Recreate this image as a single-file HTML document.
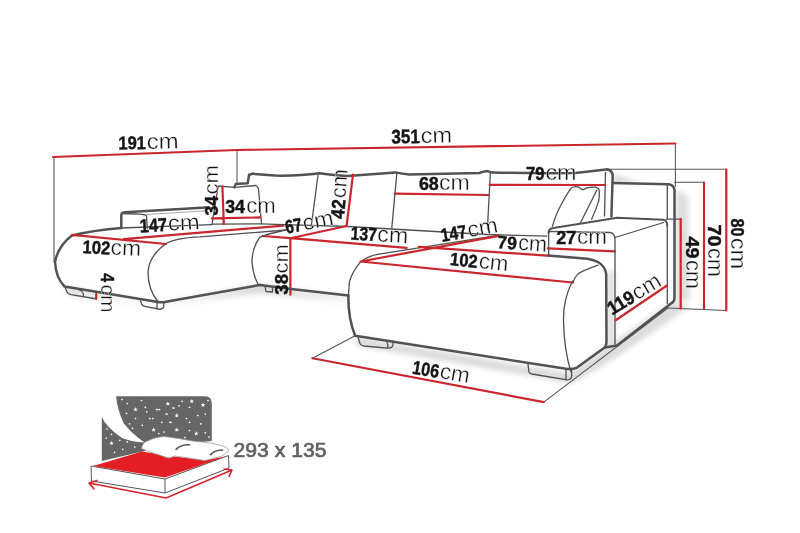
<!DOCTYPE html>
<html><head><meta charset="utf-8">
<style>
html,body{margin:0;padding:0;background:#fff;width:800px;height:533px;overflow:hidden}
svg{display:block;will-change:transform}
text{font-family:"Liberation Sans",sans-serif;fill:#151515}
.c{stroke:#fff;stroke-width:0.35}
.b{font-weight:bold;stroke:#151515;stroke-width:0.45}
.g{fill:none;stroke:#525252;stroke-width:2.5;stroke-linecap:round;stroke-linejoin:round}
.t{fill:none;stroke:#505050;stroke-width:1.3;stroke-linecap:round;stroke-linejoin:round}
.e{fill:none;stroke:#555;stroke-width:1.05;stroke-linecap:round}
.r{fill:none;stroke:#c9262d;stroke-width:2.2;stroke-linecap:round;stroke-linejoin:round}
</style></head><body>
<svg width="800" height="533" viewBox="0 0 800 533">
<defs>
<linearGradient id="sh1" x1="0" y1="0" x2="0" y2="1"><stop offset="0" stop-color="#bdbdbd"/><stop offset="1" stop-color="#fff" stop-opacity="0"/></linearGradient>
<linearGradient id="sh2" x1="0" y1="0" x2="1" y2="0"><stop offset="0" stop-color="#c4c4c4"/><stop offset="1" stop-color="#fff" stop-opacity="0"/></linearGradient>
<filter id="bl" x="-20%" y="-50%" width="140%" height="200%"><feGaussianBlur stdDeviation="2.5"/></filter>
</defs>
<g filter="url(#bl)" opacity="0.85">
<path fill="url(#sh1)" d="M64.5,287 L156,301 L260,285 L291,289 L348.4,295.6 L349,306 L291,298 L260,294 L156,311 L70,297 Z"/>
<path fill="#d6d6d6" d="M355.1,336 L529,366.5 L569,372.5 L605,347.5 L669,304 L676,302 L690,306 L620,355 L572,384 L530,376 L357,346 Z"/>
<path fill="#d9d9d9" d="M675.5,190 L688,195 L690,300 L676,302 Z"/>
<path fill="#dcdcdc" d="M607,272 L615,270 L615,344 L607,346 Z"/>
<path fill="#d0d0d0" d="M613,174 L632,180 L645,183 L613,183 Z"/>
</g>
<!-- TOP dimension -->
<path class="e" d="M54,157.5 V262 M237,150 V183.5 M675.4,143.5 V186.3"/>
<path class="r" d="M53,157 L237,150 L675.4,143.5"/>

<!-- LEFT CHAISE -->
<path class="g" d="M121.3,228 V215.5 Q121.3,212.3 125,212.2 L206,207.4"/>
<path class="t" d="M124,213.8 Q145.5,213.5 146.5,216 L147.3,228.3"/>
<path class="t" style="stroke:#aaa;stroke-width:1" d="M147,214.5 L206,210.8"/>
<path class="t" d="M121.3,228 L212,224.6"/>
<path class="g" d="M121.3,228 Q95,230 72,235.5 Q58,246 55,262 Q56,278 64.5,286.5 L158,302 Q162,302.8 166,301.8 L260,285"/>
<path class="t" d="M166,243.5 Q175,238 200,236.8 L286,230"/>
<path class="t" d="M166,243.5 Q149,256 148,272 Q148,290 158,301.5"/>
<path class="t" d="M65.5,288.25 L67,292 Q68,294 71,294.6 L95.5,298.75 M79,289.75 Q84,292 83.5,295.75"/>
<path class="t" d="M140.5,301 L142,304.75 Q143,306 146,306.6 L160,309.25 Q163.75,309 163.75,306 L163.75,302.5 M157,302.5 V309"/>
<path class="r" d="M96.2,294 V299"/>
<path class="r" d="M72,234.8 L166,244 M123.75,239.1 L283.4,225.6"/>

<!-- PILLOW left -->
<path class="g" d="M234.4,187.4 L235.8,183.9 L247.7,183.2 L249.1,174.8 L252.7,173.8"/>
<path class="t" d="M218.2,186 L234.4,187.4 L256,185.5 Q258,186.5 258.5,189 L261.5,223.8 L212,224.2 L218.2,186"/>
<path class="t" d="M261.5,223.8 L284.2,224.7 L348,226.5 L487,234.5 L547,236.1"/>
<path class="r" d="M222.4,186.7 L223.8,224 M211.9,218.4 L260.4,217.4"/>

<!-- MIDDLE BACK -->
<path class="g" d="M252.7,173.8 L275,175.6 Q300,176 319.5,173.2 Q330,175 347.5,176 Q375,174 395.5,172.4 Q402,174 409.3,174.4 L479.4,173 Q485,171 487.7,171 Q490,172.4 492.5,172.4 Q530,173.5 575.5,173 L606,169.4 Q611.5,169 612.7,175 L611.4,216.5"/>
<path class="t" d="M318,175 L311.3,226 M396.9,172.4 L391.8,228 M490.4,172 L487.4,229 M605.5,172.4 L604.5,216"/>
<path class="r" d="M353,174.7 L346.6,226 L290.4,238.2 L262.4,236 M290.4,238.2 V294.7 M290.4,238.2 L406.6,247.8"/>
<path class="r" d="M394.8,193.7 L488.3,195 M489.7,184.8 L605,185"/>
<path class="t" d="M286,230 Q266.7,233.9 259.7,237.4 Q252,248 252,262 Q253,275 258,284"/>
<path class="g" d="M260,285 L291.25,289 L348.4,295.6"/>
<path class="t" d="M265,286 L266,291.5 L272.5,292 L272.5,287.5"/>

<!-- RIGHT CHAISE -->
<path class="t" d="M360.6,261.9 Q352,272 349.4,282 L348.4,295.6"/>
<path class="g" d="M348.4,295.6 Q348,318 355.1,335.75 L566,368.8 Q572,369.8 577,367.6 L604,348 Q606.5,346 606.5,341 L606.2,274 Q605,266 598,262 Q594,260 587.5,258.7 L547.7,255.4"/>
<path class="t" d="M598,265.2 Q582,271 577.75,274.1 Q574,278 572.9,283"/>
<path class="t" d="M360.6,261.9 Q368,256 377.5,254.4 L498.2,235.3"/>
<path class="r" d="M360.6,261.5 L497.4,236.1 M360.6,261.5 L572.5,282.5 M418.75,246.8 L547,255.6 M547.8,248.3 L615,251.3"/>
<path class="t" d="M572.5,281 Q563,300 563.5,320 Q564,350 571,372"/>
<path class="t" d="M358,337 L360,343.5 Q361,345.5 364,346 L387.8,348.1 Q393,348.3 393,344 L392.8,341 M386.8,342 Q388.5,345 387.8,348.1"/>
<path class="t" d="M528,364.1 L528.9,372 Q529.5,373.5 532,374 L567,379.8 Q571.5,380 571.75,375.5 L571.5,370 M566,369 V379.5"/>
<path class="e" d="M312.4,358.25 L355.1,335.75 M543.75,402.1 L668,308"/>
<path class="r" d="M312.4,358.25 L543.75,402.1"/>

<path class="t" d="M552.4,226.4 Q556,214 560.6,205.8 Q566,195 571,188.3 Q573.5,186.5 576.1,186.7 Q579,187 580.2,188.3 L583.3,189.8 Q585,188.5 587.5,187.7 Q592,186.7 595.7,187.2 Q599.5,188.5 599.3,192 Q599.5,196 598.8,200.6 Q596,210 591.6,219.2 M596.8,190.3 L580.2,223.3"/>
<!-- RIGHT ARMREST -->
<path class="g" d="M613.4,183 L668.6,184.3 Q673.8,185 674.5,190 V297 Q674.5,302 671,303.5 L617,345.5 L605,347.5"/>
<path class="t" d="M667.3,185 V219"/>
<path class="g" style="stroke-width:1.9" d="M548.5,233 Q548.5,228.5 553.5,228 L617.3,217.8 L663.3,219.8 Q667.3,220.5 667.3,226"/>
<path class="t" d="M667.3,226 V303.7"/>
<path class="t" d="M548.7,231.3 L610,232.5 Q615,233 615,240 V344 M615,237.5 L663.7,222.5 M548.7,232 V256"/>
<path class="e" d="M609.5,169.2 H726.3 M674.5,182.3 H704 M666,219.1 H681 M668,308 L726.3,310.5"/>
<path class="r" d="M726.3,169.6 V310.5 M704,182.5 V308.6 M680.7,219.1 V308.6 M616,320 L667,285.5"/>

<!-- BED ICON -->
<path fill="#666" d="M116,396.3 L204.5,396.3 Q211.8,396.3 211.8,403.5 L211.8,441 L170,445 L101.8,461 L101.8,417 Q106,427 122,438 Q132,442 144.5,442.5 Q132,434 123.5,423 Q117.5,410 116,396.3 Z"/>
<polygon fill="#fff" points="167.80,401.40 168.39,402.98 170.08,403.06 168.76,404.11 169.21,405.74 167.80,404.81 166.39,405.74 166.84,404.11 165.52,403.06 167.21,402.98"/>
<polygon fill="#fff" points="135.50,407.10 136.09,408.68 137.78,408.76 136.46,409.81 136.91,411.44 135.50,410.51 134.09,411.44 134.54,409.81 133.22,408.76 134.91,408.68"/>
<polygon fill="#fff" points="153.60,427.40 154.19,428.98 155.88,429.06 154.56,430.11 155.01,431.74 153.60,430.81 152.19,431.74 152.64,430.11 151.32,429.06 153.01,428.98"/>
<polygon fill="#fff" points="111.50,440.90 112.09,442.48 113.78,442.56 112.46,443.61 112.91,445.24 111.50,444.31 110.09,445.24 110.54,443.61 109.22,442.56 110.91,442.48"/>
<polygon fill="#fff" points="191.80,398.90 192.39,400.48 194.08,400.56 192.76,401.61 193.21,403.24 191.80,402.31 190.39,403.24 190.84,401.61 189.52,400.56 191.21,400.48"/>
<polygon fill="#fff" points="203.00,402.60 203.59,404.18 205.28,404.26 203.96,405.31 204.41,406.94 203.00,406.01 201.59,406.94 202.04,405.31 200.72,404.26 202.41,404.18"/>
<polygon fill="#fff" points="176.80,413.10 177.39,414.68 179.08,414.76 177.76,415.81 178.21,417.44 176.80,416.51 175.39,417.44 175.84,415.81 174.52,414.76 176.21,414.68"/>
<polygon fill="#fff" points="176.80,427.40 177.39,428.98 179.08,429.06 177.76,430.11 178.21,431.74 176.80,430.81 175.39,431.74 175.84,430.11 174.52,429.06 176.21,428.98"/>
<polygon fill="#fff" points="196.30,431.10 196.89,432.68 198.58,432.76 197.26,433.81 197.71,435.44 196.30,434.51 194.89,435.44 195.34,433.81 194.02,432.76 195.71,432.68"/>
<circle fill="#fff" cx="141.5" cy="400.5" r="0.85"/>
<circle fill="#fff" cx="127.3" cy="403.5" r="0.85"/>
<circle fill="#fff" cx="145.3" cy="407.3" r="0.85"/>
<circle fill="#fff" cx="146.8" cy="411.8" r="0.85"/>
<circle fill="#fff" cx="156.6" cy="409.5" r="0.85"/>
<circle fill="#fff" cx="159.6" cy="409.5" r="0.85"/>
<circle fill="#fff" cx="167" cy="414" r="0.85"/>
<circle fill="#fff" cx="126.5" cy="413.3" r="0.85"/>
<circle fill="#fff" cx="135.5" cy="418.5" r="0.85"/>
<circle fill="#fff" cx="149.8" cy="418.5" r="0.85"/>
<circle fill="#fff" cx="152.8" cy="418.5" r="0.85"/>
<circle fill="#fff" cx="161.8" cy="422.3" r="0.85"/>
<circle fill="#fff" cx="170" cy="422.3" r="0.85"/>
<circle fill="#fff" cx="129.5" cy="423.8" r="0.85"/>
<circle fill="#fff" cx="142.3" cy="425.3" r="0.85"/>
<circle fill="#fff" cx="164" cy="432" r="0.85"/>
<circle fill="#fff" cx="132.5" cy="428.3" r="0.85"/>
<circle fill="#fff" cx="111.5" cy="434.3" r="0.85"/>
<circle fill="#fff" cx="119.8" cy="440.3" r="0.85"/>
<circle fill="#fff" cx="127.3" cy="441.8" r="0.85"/>
<circle fill="#fff" cx="122.8" cy="449.3" r="0.85"/>
<circle fill="#fff" cx="114.5" cy="452.3" r="0.85"/>
<circle fill="#fff" cx="106.3" cy="438" r="0.85"/>
<circle fill="#fff" cx="107" cy="429" r="0.85"/>
<circle fill="#fff" cx="134.8" cy="447" r="0.85"/>
<circle fill="#fff" cx="173" cy="408" r="0.85"/>
<circle fill="#fff" cx="182" cy="401.3" r="0.85"/>
<circle fill="#fff" cx="179" cy="405.8" r="0.85"/>
<circle fill="#fff" cx="173.8" cy="408" r="0.85"/>
<circle fill="#fff" cx="189.5" cy="407.3" r="0.85"/>
<circle fill="#fff" cx="158" cy="409.5" r="0.85"/>
<circle fill="#fff" cx="166.3" cy="414" r="0.85"/>
<circle fill="#fff" cx="186.5" cy="418.5" r="0.85"/>
<circle fill="#fff" cx="197.8" cy="415.5" r="0.85"/>
<circle fill="#fff" cx="205.3" cy="414" r="0.85"/>
<circle fill="#fff" cx="170.8" cy="422.3" r="0.85"/>
<circle fill="#fff" cx="189.5" cy="422.3" r="0.85"/>
<circle fill="#fff" cx="200.8" cy="423.8" r="0.85"/>
<circle fill="#fff" cx="189.5" cy="430.5" r="0.85"/>
<circle fill="#fff" cx="205.3" cy="432.8" r="0.85"/>
<circle fill="#fff" cx="158.8" cy="433.5" r="0.85"/>
<circle fill="#fff" cx="122" cy="399.5" r="0.85"/>
<circle fill="#fff" cx="208" cy="400.5" r="0.85"/>
<circle fill="#fff" cx="185" cy="437.5" r="0.85"/>
<circle fill="#fff" cx="209" cy="437" r="0.85"/>
<path fill="#fff" stroke="#555" stroke-width="1" stroke-linejoin="round" d="M91,466 L165,479 L228.5,455.5 L229,468 L165,493 L91.5,481 Z"/>
<path fill="none" stroke="#555" stroke-width="1" d="M165,479 V493"/>
<path fill="#e31e24" d="M93,466 L142,451.5 L170,456 L205,460 L226,456.5 L165,477.5 Z"/>
<path fill="#fff" stroke="#9a9a9a" stroke-width="0.8" d="M141.5,448.5 Q143,442 147.5,441 Q155,437 164,436.5 Q178,438 192.5,441 Q203,442 212,443.3 Q221,445 225.6,447 Q229,449 228.6,451 Q226,453 222,456 Q212,459 204.5,460.6 Q190,458 174.5,456 Q171,458 168,458 Q160,455 150,452 Q145,450 141.5,448.5 Z"/>
<path fill="none" stroke="#555" stroke-width="1.6" stroke-linecap="round" d="M176,449.3 Q181,444.5 189.5,444.8 M210.5,454.6 Q215,450 222.5,450"/>
<path fill="none" stroke="#d8232a" stroke-width="1.6" stroke-linecap="round" stroke-linejoin="round" d="M89,483 L166,498 L232,470 M97,480.5 L89,483 L94,489 M224,469 L232,470 L229,476.5"/>

<g transform="translate(118.5,149.5) rotate(-1.0)"><text class="b" font-size="18.5" textLength="27.5" lengthAdjust="spacingAndGlyphs">191</text><text class="c" x="28.3" font-size="22" textLength="32.0" lengthAdjust="spacingAndGlyphs">cm</text></g>
<g transform="translate(391.5,143.5) rotate(-1.0)"><text class="b" font-size="19.5" textLength="28.5" lengthAdjust="spacingAndGlyphs">351</text><text class="c" x="29.3" font-size="22" textLength="31.5" lengthAdjust="spacingAndGlyphs">cm</text></g>
<g transform="translate(225.2,213.2)"><text class="b" font-size="18.5" textLength="19.8" lengthAdjust="spacingAndGlyphs">34</text><text class="c" x="21.1" font-size="22" textLength="29.5" lengthAdjust="spacingAndGlyphs">cm</text></g>
<g transform="translate(217.5,215.6) rotate(-90)"><text class="b" font-size="17.5" textLength="19.7" lengthAdjust="spacingAndGlyphs">34</text><text class="c" x="21.0" font-size="21" textLength="29.5" lengthAdjust="spacingAndGlyphs">cm</text></g>
<g transform="translate(140,232.6) rotate(-3.5)"><text class="b" font-size="18.8" textLength="27.6" lengthAdjust="spacingAndGlyphs">147</text><text class="c" x="28.400000000000002" font-size="22" textLength="31.7" lengthAdjust="spacingAndGlyphs">cm</text></g>
<g transform="translate(82.3,253.0) rotate(3.0)"><text class="b" font-size="18.2" textLength="27.7" lengthAdjust="spacingAndGlyphs">102</text><text class="c" x="28.1" font-size="22" textLength="30.4" lengthAdjust="spacingAndGlyphs">cm</text></g>
<g transform="translate(100.8,273.2) rotate(90)"><text class="b" font-size="19.0" textLength="8.8" lengthAdjust="spacingAndGlyphs">4</text><text class="c" x="11.200000000000001" font-size="21" textLength="28.0" lengthAdjust="spacingAndGlyphs">cm</text></g>
<g transform="translate(286.5,233.8) rotate(-11)"><text class="b" font-size="19.0" textLength="17.0" lengthAdjust="spacingAndGlyphs">67</text><text class="c" x="17.8" font-size="22" textLength="31.0" lengthAdjust="spacingAndGlyphs">cm</text></g>
<g transform="translate(344.0,219.3) rotate(-86)"><text class="b" font-size="19.0" textLength="19.5" lengthAdjust="spacingAndGlyphs">42</text><text class="c" x="20.8" font-size="22" textLength="29.0" lengthAdjust="spacingAndGlyphs">cm</text></g>
<g transform="translate(288.4,294.7) rotate(-90)"><text class="b" font-size="19.0" textLength="20.7" lengthAdjust="spacingAndGlyphs">38</text><text class="c" x="21.3" font-size="21" textLength="29.2" lengthAdjust="spacingAndGlyphs">cm</text></g>
<g transform="translate(350.3,239.4) rotate(4)"><text class="b" font-size="18.5" textLength="26.3" lengthAdjust="spacingAndGlyphs">137</text><text class="c" x="26.6" font-size="22" textLength="31.0" lengthAdjust="spacingAndGlyphs">cm</text></g>
<g transform="translate(418.9,189.6)"><text class="b" font-size="18.7" textLength="19.9" lengthAdjust="spacingAndGlyphs">68</text><text class="c" x="20.099999999999998" font-size="22" textLength="30.8" lengthAdjust="spacingAndGlyphs">cm</text></g>
<g transform="translate(526.0,179.9)"><text class="b" font-size="18.2" textLength="18.6" lengthAdjust="spacingAndGlyphs">79</text><text class="c" x="19.400000000000002" font-size="22" textLength="31.2" lengthAdjust="spacingAndGlyphs">cm</text></g>
<g transform="translate(442.0,242.0) rotate(-10)"><text class="b" font-size="18.8" textLength="26.0" lengthAdjust="spacingAndGlyphs">147</text><text class="c" x="27.2" font-size="22" textLength="30.5" lengthAdjust="spacingAndGlyphs">cm</text></g>
<g transform="translate(497.0,248.3) rotate(4)"><text class="b" font-size="18.2" textLength="19.5" lengthAdjust="spacingAndGlyphs">79</text><text class="c" x="20.8" font-size="22" textLength="29.0" lengthAdjust="spacingAndGlyphs">cm</text></g>
<g transform="translate(556.3,243.8)"><text class="b" font-size="18.2" textLength="20.0" lengthAdjust="spacingAndGlyphs">27</text><text class="c" x="20.8" font-size="22" textLength="30.0" lengthAdjust="spacingAndGlyphs">cm</text></g>
<g transform="translate(449.5,265.0) rotate(6)"><text class="b" font-size="18.2" textLength="27.6" lengthAdjust="spacingAndGlyphs">102</text><text class="c" x="28.900000000000002" font-size="22" textLength="29.6" lengthAdjust="spacingAndGlyphs">cm</text></g>
<g transform="translate(612,315.5) rotate(-31)"><text class="b" font-size="19.0" textLength="28.5" lengthAdjust="spacingAndGlyphs">119</text><text class="c" x="29.3" font-size="22" textLength="30.0" lengthAdjust="spacingAndGlyphs">cm</text></g>
<g transform="translate(685.5,236.6) rotate(90)"><text class="b" font-size="19.0" textLength="22.0" lengthAdjust="spacingAndGlyphs">49</text><text class="c" x="23.3" font-size="22" textLength="29.0" lengthAdjust="spacingAndGlyphs">cm</text></g>
<g transform="translate(708.0,224.6) rotate(90)"><text class="b" font-size="19.0" textLength="22.0" lengthAdjust="spacingAndGlyphs">70</text><text class="c" x="23.3" font-size="22" textLength="29.0" lengthAdjust="spacingAndGlyphs">cm</text></g>
<g transform="translate(730.5,218.5) rotate(90)"><text class="b" font-size="19.0" textLength="18.0" lengthAdjust="spacingAndGlyphs">80</text><text class="c" x="19.3" font-size="22" textLength="31.5" lengthAdjust="spacingAndGlyphs">cm</text></g>
<g transform="translate(411.4,373.5) rotate(9.5)"><text class="b" font-size="19.0" textLength="27.0" lengthAdjust="spacingAndGlyphs">106</text><text class="c" x="28.0" font-size="22" textLength="30.0" lengthAdjust="spacingAndGlyphs">cm</text></g>
<text x="233.5" y="456.8" font-size="21" style="fill:#626262;stroke:#626262;stroke-width:0.7" textLength="93" lengthAdjust="spacingAndGlyphs">293 x 135</text>
</svg>
</body></html>
